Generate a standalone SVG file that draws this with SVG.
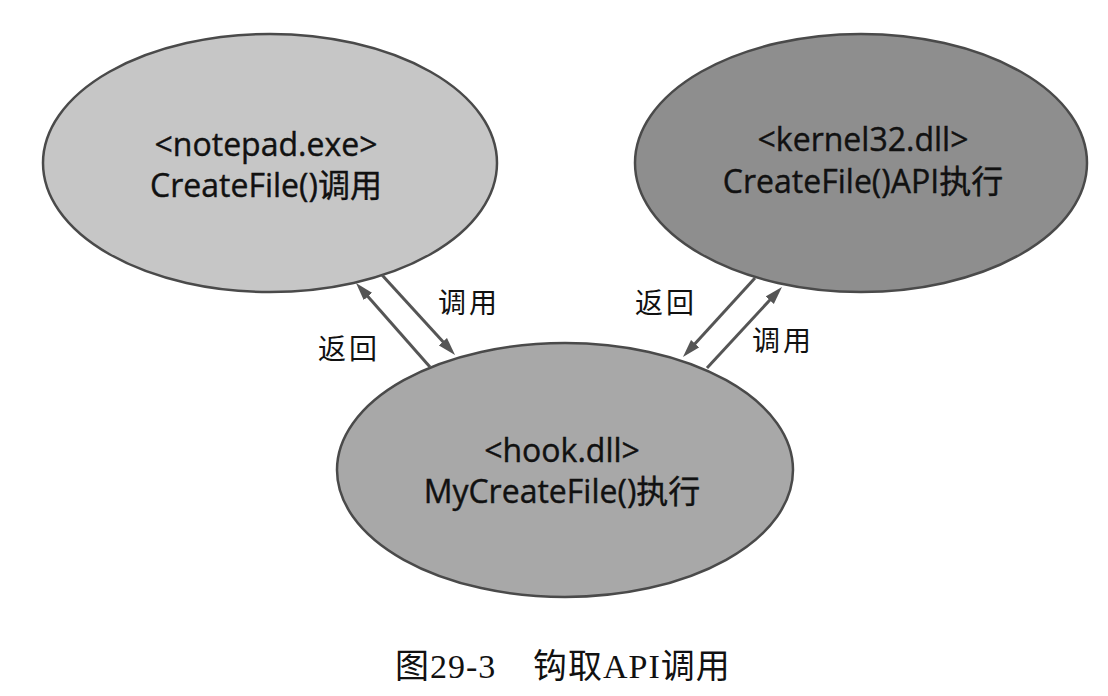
<svg xmlns="http://www.w3.org/2000/svg" width="1108" height="696" viewBox="0 0 1108 696">
  <style>
    .node { stroke: #4a4a4a; stroke-width: 2.5; }
    .main { font-family: "Open Sans", "Noto Sans CJK SC", sans-serif; font-size: 32px; fill: #111; text-anchor: middle; stroke: #111; stroke-width: 0.4px; }
    .lbl { font-family: "Noto Sans CJK SC", sans-serif; font-size: 28px; fill: #111; letter-spacing: 3px; }
    .cap { font-family: "Liberation Serif", "Noto Sans CJK SC", serif; font-size: 34px; fill: #111; letter-spacing: 1px; }
    .conn { stroke: #555; stroke-width: 3; fill: none; marker-end: url(#ah); }
  </style>
  <defs>
    <marker id="ah" markerUnits="userSpaceOnUse" markerWidth="20" markerHeight="12" refX="8" refY="6" orient="auto">
      <path d="M0,0.5 L18,6 L0,11.5 Z" fill="#555"/>
    </marker>
  </defs>
  <rect width="1108" height="696" fill="#fff"/>
  <g id="node-notepad">
    <ellipse class="node" cx="270" cy="163" rx="227" ry="129" fill="#c6c6c6"/>
    <text class="main" x="266" y="156">&lt;notepad.exe&gt;</text>
    <text class="main" x="266" y="197">CreateFile()调用</text>
  </g>
  <g id="node-kernel32">
    <ellipse class="node" cx="861" cy="163" rx="226" ry="129" fill="#8e8e8e"/>
    <text class="main" x="863" y="151">&lt;kernel32.dll&gt;</text>
    <text class="main" x="863" y="193">CreateFile()API执行</text>
  </g>
  <g id="node-hook">
    <ellipse class="node" cx="565" cy="470" rx="228" ry="127" fill="#a8a8a8"/>
    <text class="main" x="562" y="462">&lt;hook.dll&gt;</text>
    <text class="main" x="562" y="503">MyCreateFile()执行</text>
  </g>
  <g id="connectors">
    <line class="conn" x1="430" y1="367" x2="362.6" y2="290.5"/>
    <line class="conn" x1="382" y1="275" x2="448.3" y2="347.6"/>
    <line class="conn" x1="755" y1="278" x2="689.7" y2="349.6"/>
    <line class="conn" x1="707" y1="368" x2="775.2" y2="294.3"/>
    <text class="lbl" x="438" y="313">调用</text>
    <text class="lbl" x="318" y="359">返回</text>
    <text class="lbl" x="635" y="313">返回</text>
    <text class="lbl" x="752" y="351">调用</text>
  </g>
  <g id="caption">
    <text class="cap" x="395" y="678">图29-3</text>
    <text class="cap" x="533" y="678">钩取API调用</text>
  </g>
</svg>
